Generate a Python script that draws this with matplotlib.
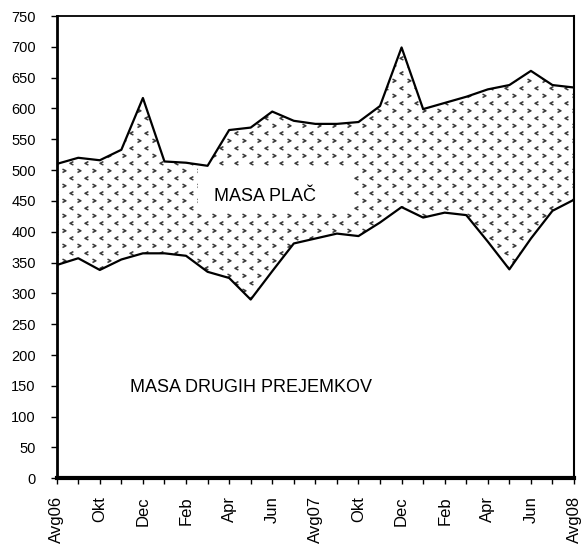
import numpy as np
import matplotlib
matplotlib.use("Agg")
import matplotlib.pyplot as plt
from matplotlib.path import Path
from matplotlib.patches import Rectangle

plt.rcParams['font.family'] = ['Liberation Sans', 'DejaVu Sans']

# mesecne vrednosti Avg06 .. Avg08
meseci = ['Avg06', 'Sep', 'Okt', 'Nov', 'Dec', 'Jan', 'Feb', 'Mar', 'Apr', 'Maj', 'Jun', 'Jul',
          'Avg07', 'Sep', 'Okt', 'Nov', 'Dec', 'Jan', 'Feb', 'Mar', 'Apr', 'Maj', 'Jun', 'Jul', 'Avg08']
drugi = [346, 357, 338, 355, 365, 365, 361, 335, 325, 290, 336, 381,
         389, 397, 393, 415, 440, 423, 431, 427, 384, 339, 389, 434, 452]
skupaj = [510, 520, 516, 533, 617, 514, 512, 507, 565, 569, 595, 580,
          575, 575, 578, 604, 699, 599, 609, 619, 631, 638, 661, 638, 634]

x = np.arange(len(meseci))

fig = plt.figure(figsize=(5.82, 5.45), dpi=100)
ax = fig.add_axes([0.0974, 0.1224, 0.8889, 0.8482])

# vzorec za maso plac
poly = ax.fill_between(x, drugi, skupaj, facecolor='white', edgecolor='none', zorder=1)
chev_l = Path([(1, 1), (-1, 0), (1, -1)], [Path.MOVETO, Path.LINETO, Path.LINETO])
chev_r = Path([(-1, 1), (1, 0), (-1, -1)], [Path.MOVETO, Path.LINETO, Path.LINETO])
dx, dy = 15 / 517.3, 7.5 / 462.3
rows = np.arange(0, 1 + dy, dy)
for i, yy in enumerate(rows):
    xs = np.arange((i % 2) * dx / 2, 1 + dx, dx)
    m = chev_l if i % 2 == 0 else chev_r
    sc = ax.scatter(xs, np.full_like(xs, yy), marker=m, s=6, facecolors='none',
                    edgecolors='#3a3a3a', linewidths=1.1, transform=ax.transAxes, zorder=2)
    sc.set_clip_path(poly.get_paths()[0], transform=ax.transData)

ax.plot(x, skupaj, color='black', lw=1.6, zorder=4)
ax.plot(x, drugi, color='black', lw=1.6, zorder=4)

ax.add_patch(Rectangle((0.273, 0.574), 0.298, 0.099, transform=ax.transAxes,
                       facecolor='white', edgecolor='none', zorder=3))
ax.text(0.305, 0.609, 'MASA PLAČ', transform=ax.transAxes, fontsize=13,
        ha='left', va='center', zorder=5)
ax.text(0.142, 0.197, 'MASA DRUGIH PREJEMKOV', transform=ax.transAxes, fontsize=13,
        ha='left', va='center', zorder=5)

ax.set_xlim(0, 24)
ax.set_ylim(0, 750)
ax.set_yticks(np.arange(0, 751, 50))
ax.set_xticks(x)
ax.set_xticklabels([m if i % 2 == 0 else '' for i, m in enumerate(meseci)],
                   rotation=90, ha='center', va='top')
ax.tick_params(axis='both', direction='out', length=4, width=1, color='black')
ax.tick_params(axis='y', pad=11, labelsize=10.5)
ax.tick_params(axis='x', pad=9, labelsize=12)

ax.spines['left'].set_linewidth(2.0)
ax.spines['bottom'].set_linewidth(3.0)
ax.spines['top'].set_linewidth(1.3)
ax.spines['right'].set_linewidth(1.5)
for s in ax.spines.values():
    s.set_zorder(6)

fig.savefig('out.png', dpi=100)
